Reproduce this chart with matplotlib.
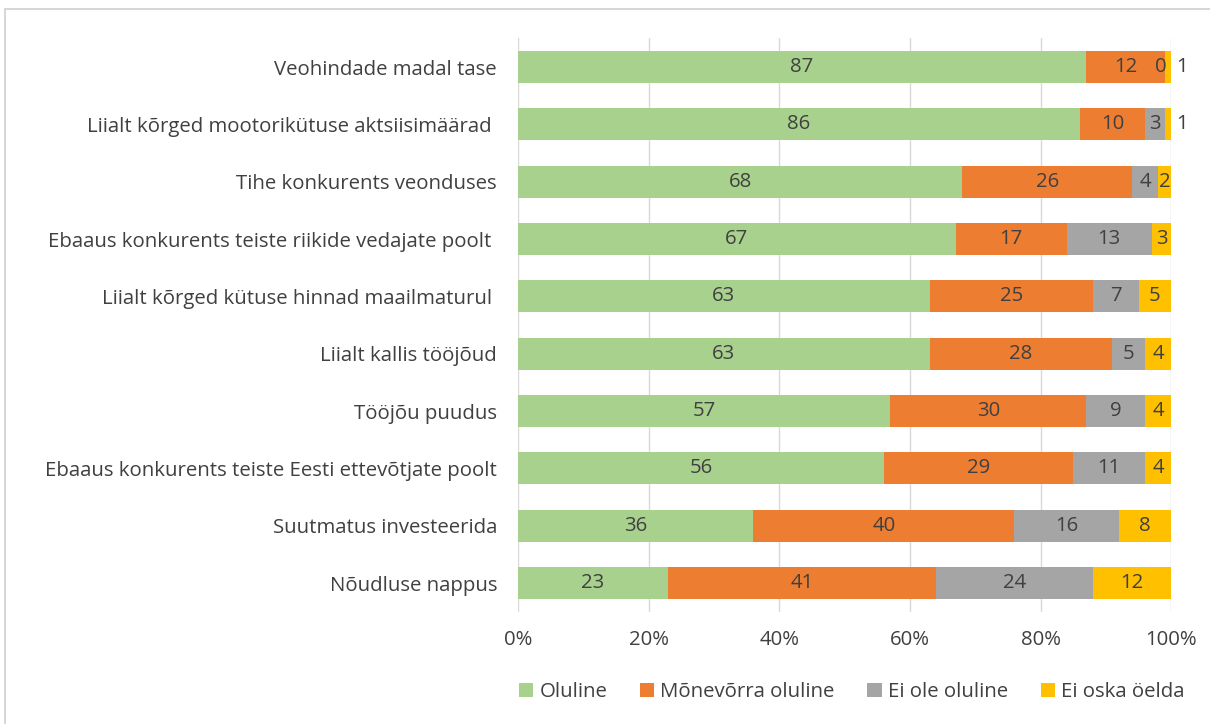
import numpy as np
import matplotlib.pyplot as plt
from matplotlib.patches import Rectangle

plt.rcParams["font.family"] = ["Open Sans", "DejaVu Sans"]
plt.rcParams["font.size"] = 14.7

categories = [
    "Veohindade madal tase",
    "Liialt kõrged mootorikütuse aktsiisimäärad ",
    "Tihe konkurents veonduses",
    "Ebaaus konkurents teiste riikide vedajate poolt ",
    "Liialt kõrged kütuse hinnad maailmaturul ",
    "Liialt kallis tööjõud",
    "Tööjõu puudus",
    "Ebaaus konkurents teiste Eesti ettevõtjate poolt",
    "Suutmatus investeerida",
    "Nõudluse nappus",
]
oluline = [87, 86, 68, 67, 63, 63, 57, 56, 36, 23]
monevorra = [12, 10, 26, 17, 25, 28, 30, 29, 40, 41]
ei_ole = [0, 3, 4, 13, 7, 5, 9, 11, 16, 24]
ei_oska = [1, 1, 2, 3, 5, 4, 4, 4, 8, 12]

series = [
    ("Oluline", oluline, "#A9D18E"),
    ("Mõnevõrra oluline", monevorra, "#ED7D31"),
    ("Ei ole oluline", ei_ole, "#A5A5A5"),
    ("Ei oska öelda", ei_oska, "#FFC000"),
]
txt = "#404040"

fig = plt.figure(figsize=(12.1, 7.24), dpi=100)
fig.patches.append(Rectangle((0.004, -0.01), 1.2, 0.997, transform=fig.transFigure,
                             fill=False, edgecolor="#D0D0D0", linewidth=1.2))
ax = fig.add_axes([0.428, 0.155, 0.54, 0.792])

y = np.arange(len(categories))
left = np.zeros(len(categories))
for name, vals, col in series:
    vals = np.array(vals, dtype=float)
    ax.barh(y, vals, left=left, height=0.56, color=col, label=name, zorder=2)
    for i, v in enumerate(vals):
        xpos = left[i] + v / 2
        # small segments in the top rows have labels nudged aside
        if i == 0 and name == "Ei ole oluline":
            xpos = 98.4
        if i in (0, 1) and name == "Ei oska öelda":
            xpos = 101.6
        ax.text(xpos, i, f"{int(v)}", ha="center", va="center", color=txt, fontsize=14.7, zorder=3)
    left += vals

ax.set_xlim(0, 100)
ax.set_ylim(len(categories) - 0.5, -0.5)
ax.set_xticks(np.arange(0, 101, 20))
ax.set_xticklabels([f"{t}%" for t in range(0, 101, 20)], color=txt)
ax.set_yticks(y)
ax.set_yticklabels(categories, color=txt)
ax.tick_params(axis="x", length=0, pad=13)
ax.tick_params(axis="y", length=0, pad=15)
ax.grid(axis="x", color="#D9D9D9", linewidth=1, zorder=0)
for s in ax.spines.values():
    s.set_visible(False)

fig.legend(loc="center", bbox_to_anchor=(0.704, 0.044), ncol=4, frameon=False,
           handlelength=0.7, handleheight=0.7, handletextpad=0.3, columnspacing=1.6,
           labelcolor=txt, fontsize=14.7)

fig.savefig("out.png", dpi=100)
